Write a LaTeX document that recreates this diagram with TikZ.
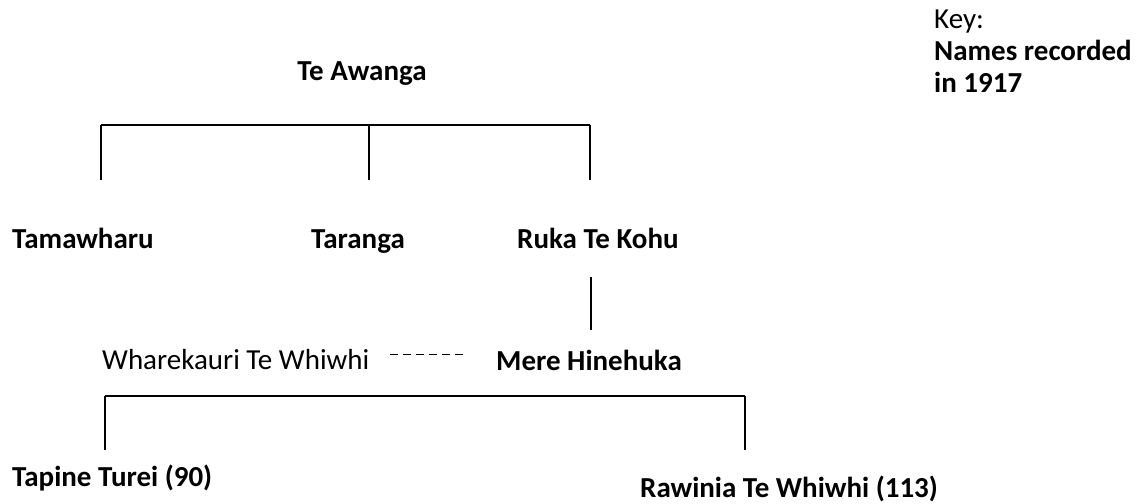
\documentclass[tikz,border=0pt]{standalone}
\usepackage{fontspec}
\setmainfont{Carlito}
\begin{document}
\begin{tikzpicture}[x=1pt,y=-1pt,
  person/.style={font=\fontsize{29}{35}\selectfont\bfseries, inner sep=0pt},
  plainperson/.style={font=\fontsize{29}{35}\selectfont, inner sep=0pt},
  keytext/.style={font=\fontsize{29}{32}\selectfont, inner sep=0pt, align=left},
  link/.style={line width=1.5pt},
  spouse/.style={line width=1pt, dash pattern=on 8pt off 5pt}]
\useasboundingbox (0,0) rectangle (1147,503);

% people
\node[person, anchor=base] (awanga) at (362,81) {Te Awanga};
\node[person, anchor=base west] (tamawharu) at (12,248) {Tamawharu};
\node[person, anchor=base east] (taranga) at (405,248) {Taranga};
\node[person, anchor=base west] (ruka) at (517,248) {Ruka Te Kohu};
\node[plainperson, anchor=base west] (wharekauri) at (102,369) {Wharekauri Te Whiwhi};
\node[person, anchor=base west] (mere) at (496,370) {Mere Hinehuka};
\node[person, anchor=base west] (tapine) at (12,486) {Tapine Turei (90)};
\node[person, anchor=base west] (rawinia) at (640,497) {Rawinia Te Whiwhi (113)};

% key
\node[keytext, anchor=north west] (key) at (934,10)
  {Key:\\\textbf{Names recorded}\\\textbf{in 1917}};

% children of Te Awanga
\coordinate (barL) at (101,125);
\coordinate (barM) at (369,125);
\coordinate (barR) at (590,125);
\coordinate (dropL) at (101,180);
\coordinate (dropM) at (369,180);
\coordinate (dropR) at (590,180);
\draw[link] (barL) -- (barR);
\draw[link] (barL) -- (dropL);
\draw[link] (barM) -- (dropM);
\draw[link] (barR) -- (dropR);

% Ruka Te Kohu to Mere Hinehuka
\coordinate (rukaDown) at (591,277);
\coordinate (mereUp) at (591,330);
\draw[link] (rukaDown) -- (mereUp);

% marriage
\coordinate (mA) at (390,354);
\coordinate (mB) at (467,354);
\draw[spouse] (mA) -- (mB);

% children of Mere Hinehuka
\coordinate (bar2L) at (105,396);
\coordinate (bar2R) at (745,396);
\coordinate (drop2L) at (105,450);
\coordinate (drop2R) at (745,450);
\draw[link] (bar2L) -- (bar2R);
\draw[link] (bar2L) -- (drop2L);
\draw[link] (bar2R) -- (drop2R);
\end{tikzpicture}
\end{document}
